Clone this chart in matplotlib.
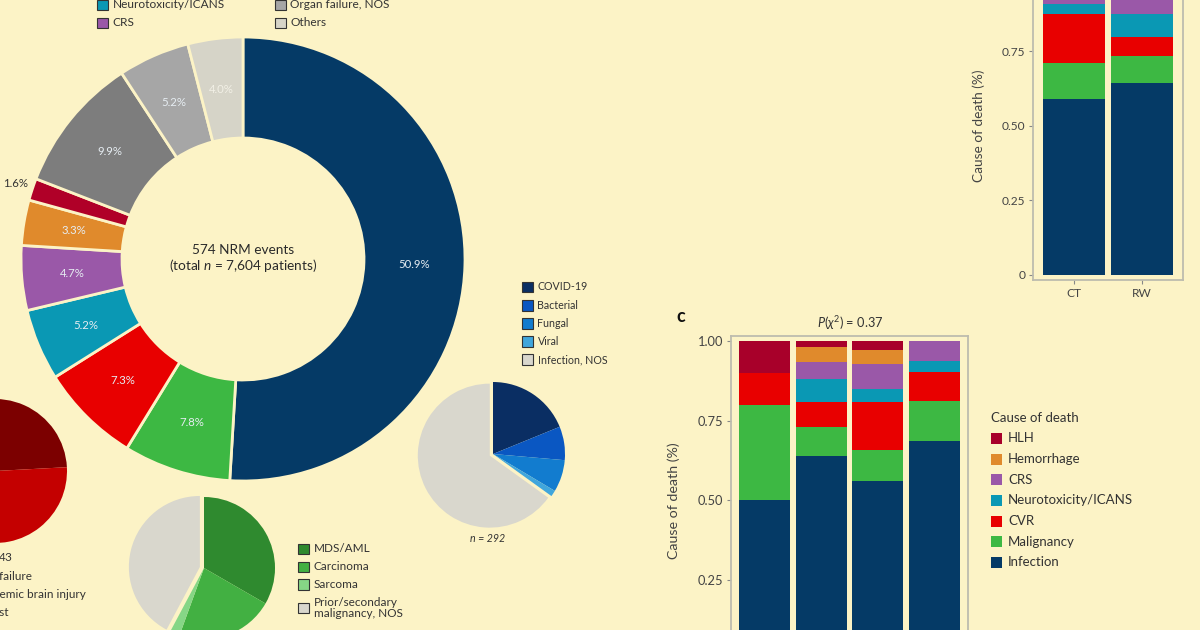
import matplotlib
matplotlib.use('Agg')
import matplotlib.pyplot as plt
import numpy as np
from matplotlib.patches import Rectangle

BG = '#fcf3c6'
plt.rcParams['font.family'] = ['Lato', 'DejaVu Sans']
plt.rcParams['mathtext.fontset'] = 'custom'
plt.rcParams['mathtext.rm'] = 'Lato'
plt.rcParams['mathtext.it'] = 'Lato:italic'

# ---------------- data ----------------
donut_labels = ['Infection', 'Malignancy', 'CVR', 'Neurotoxicity/ICANS', 'CRS',
                'Hemorrhage', 'HLH', 'Other cause', 'Organ failure, NOS', 'Others']
donut_pct = [50.9, 7.8, 7.3, 5.2, 4.7, 3.3, 1.6, 9.9, 5.2, 4.0]
donut_colors = ['#053a66', '#3db843', '#e80000', '#0a98b4', '#9a58a8',
                '#e08a2c', '#b00028', '#7d7d7d', '#a6a6a6', '#d6d4c8']

inf_labels = ['COVID-19', 'Bacterial', 'Fungal', 'Viral', 'Infection, NOS']
inf_counts = [55, 22, 21, 4, 190]
inf_colors = ['#0a2e63', '#0a57c2', '#127ccf', '#40a6dc', '#d9d7cd']

mal_labels = ['MDS/AML', 'Carcinoma', 'Sarcoma', 'Prior/secondary\nmalignancy, NOS']
mal_counts = [15, 10, 1, 19]
mal_colors = ['#2f8a2f', '#42b042', '#86d686', '#d9d7cd']

cvr_labels = ['Heart failure', 'Ischemic brain injury', 'Cardiac arrest']
cvr_counts = [15, 13, 15]
cvr_colors = ['#7c0000', '#c40000', '#ff0a0a']

causes = ['Infection', 'Malignancy', 'CVR', 'Neurotoxicity/ICANS', 'CRS', 'Hemorrhage', 'HLH']
cause_colors = ['#053a66', '#3db843', '#e80000', '#0a98b4', '#9a58a8', '#e08a2c', '#a8002a']

b_groups = ['CT', 'RW']
b_values = {
    'CT': [0.59, 0.12, 0.165, 0.033, 0.03, 0.03, 0.032],
    'RW': [0.644, 0.089, 0.063, 0.077, 0.06, 0.035, 0.032],
}

c_groups = ['G1', 'G2', 'G3', 'G4']
c_values = {
    'G1': [0.50, 0.30, 0.10, 0.0, 0.0, 0.0, 0.10],
    'G2': [0.641, 0.089, 0.078, 0.074, 0.053, 0.047, 0.018],
    'G3': [0.561, 0.096, 0.151, 0.042, 0.080, 0.042, 0.028],
    'G4': [0.687, 0.124, 0.094, 0.032, 0.063, 0.0, 0.0],
}
yticks = [0, 0.25, 0.5, 0.75, 1.0]
ytick_labels = ['0', '0.25', '0.50', '0.75', '1.00']

# ---------------- figure ----------------
W, H = 1200, 630
fig = plt.figure(figsize=(12, 6.3), dpi=100, facecolor=BG)


def box(x0, y0, x1, y1):
    a = fig.add_axes([x0 / W, 1 - y1 / H, (x1 - x0) / W, (y1 - y0) / H])
    a.set_facecolor('none')
    return a


# overlay for legends / free text in pixel coords
ov = fig.add_axes([0, 0, 1, 1], zorder=10)
ov.set_xlim(0, W)
ov.set_ylim(H, 0)
ov.axis('off')
ov.patch.set_alpha(0)


def legend_item(x, y, color, label, size=8, sq=10.5, gap=5):
    ov.add_patch(Rectangle((x, y - sq / 2), sq, sq, facecolor=color,
                           edgecolor='#333333', linewidth=0.8))
    ov.text(x + sq + gap, y, label, fontsize=size, color='#333333',
            va='center', ha='left', linespacing=1.05)


# ---------------- donut ----------------
ax = box(21, 37, 465, 481)
ax.pie(donut_pct, colors=donut_colors, startangle=90, counterclock=False,
       radius=1, wedgeprops=dict(width=0.455, edgecolor=BG, linewidth=2))
ax.set_xlim(-1, 1)
ax.set_ylim(-1, 1)
ax.set_aspect('equal')
ax.axis('off')
tot = sum(donut_pct)
cum = 0
for v, lab in zip(donut_pct, donut_labels):
    mid = np.deg2rad(90 - 360 * (cum + v / 2) / tot)
    cum += v
    if v < 2:
        r, col = 1.08, '#333333'
    else:
        r, col = 0.77, '#e6edf2'
    if lab == 'Others':
        col = '#f2f0e6'
    ax.text(r * np.cos(mid), r * np.sin(mid), f'{v:.1f}%', ha='center', va='center',
            fontsize=8.2, color=col)
ax.text(0, 0, '574 NRM events\n(total $n$ = 7,604 patients)', ha='center', va='center',
        fontsize=9.8, color='#2a2a2a', linespacing=1.15)

# top legend (visible part)
legend_item(97, 5, donut_colors[3], 'Neurotoxicity/ICANS', size=8.6)
legend_item(97, 23, donut_colors[4], 'CRS', size=8.6)
legend_item(275, 5, donut_colors[8], 'Organ failure, NOS', size=8.6)
legend_item(275, 23, donut_colors[9], 'Others', size=8.6)

# ---------------- infection pie ----------------
ax = box(421, 382, 565, 526)
ax.pie(inf_counts, colors=inf_colors, startangle=90, counterclock=False, radius=1,
       explode=[0, 0, 0, 0, 0.05], wedgeprops=dict(linewidth=0))
ax.set_xlim(-1, 1)
ax.set_ylim(-1, 1)
ax.axis('off')
for lab, col, y in zip(inf_labels, inf_colors, [287, 305.5, 323.5, 341.5, 359.5]):
    legend_item(522, y, col, lab, size=7.7)
ov.text(488, 538, 'n = 292', fontsize=7.7, style='italic', ha='center', va='center',
        color='#333333')

# ---------------- malignancy pie ----------------
ax = box(133, 497, 275, 639)
ax.pie(mal_counts, colors=mal_colors, startangle=90, counterclock=False, radius=1,
       explode=[0, 0, 0, 0.06], wedgeprops=dict(linewidth=0))
ax.set_xlim(-1, 1)
ax.set_ylim(-1, 1)
ax.axis('off')
for lab, col, y in zip(mal_labels, mal_colors, [549, 567, 584.5, 608]):
    legend_item(298, y, col, lab, size=8.5)

# ---------------- CVR pie (cut) ----------------
ax = box(-77, 399, 67, 543)
ax.pie(cvr_counts, colors=cvr_colors, startangle=128.6, counterclock=False, radius=1,
       wedgeprops=dict(linewidth=0))
ax.set_xlim(-1, 1)
ax.set_ylim(-1, 1)
ax.axis('off')
ov.text(13, 557, '$n$ = 43', fontsize=8.5, ha='right', va='center', color='#333333')
for lab, x, y in zip(cvr_labels, [32, 86, 8], [577, 595, 613]):
    ov.text(x, y, lab, fontsize=8.5, ha='right', va='center', color='#333333')


# ---------------- stacked bars ----------------
def stacked(ax, groups, values, fs, lfs):
    x = np.arange(1, len(groups) + 1)
    bottom = np.zeros(len(groups))
    for i, (c, col) in enumerate(zip(causes, cause_colors)):
        h = np.array([values[g][i] for g in groups])
        ax.bar(x, h, bottom=bottom, width=0.9, color=col, linewidth=0)
        bottom += h
    ax.set_xlim(0.4, len(groups) + 0.6)
    ax.set_ylim(-0.017, 1.017)
    ax.set_xticks(x)
    ax.set_xticklabels(groups)
    ax.set_yticks(yticks)
    ax.set_yticklabels(ytick_labels)
    for s in ax.spines.values():
        s.set_color('#bdbcae')
        s.set_linewidth(1.3)
    ax.tick_params(length=3, color='#888888', labelcolor='#444444', labelsize=fs, pad=2.5)
    ax.set_ylabel('Cause of death (%)', fontsize=lfs, color='#444444')


ax = box(1033, -28.7, 1183, 280)
stacked(ax, b_groups, b_values, 8.6, 9.8)
ax.yaxis.set_label_coords(-0.32, 0.5)

ax = box(730.7, 336, 968.3, 664.7)
stacked(ax, c_groups, c_values, 9.3, 10.3)
ax.yaxis.set_label_coords(-0.213, 0.5)

ov.text(681, 317, 'c', fontsize=13, fontweight='bold', ha='center', va='center', color='#111111')
ov.text(850, 323, '$P(\\chi^2)$ = 0.37', fontsize=9.2, ha='center', va='center', color='#333333')

ov.text(991, 418, 'Cause of death', fontsize=9.5, ha='left', va='center', color='#333333')
for c, col, y in zip(causes[::-1], cause_colors[::-1],
                     [438, 459, 479.5, 500.5, 521, 541.5, 562]):
    ov.add_patch(Rectangle((990.5, y - 5.5), 11, 11, facecolor=col, linewidth=0))
    ov.text(1008, y, c, fontsize=9.5, ha='left', va='center', color='#333333')

fig.savefig('out.png', dpi=100, facecolor=BG)
